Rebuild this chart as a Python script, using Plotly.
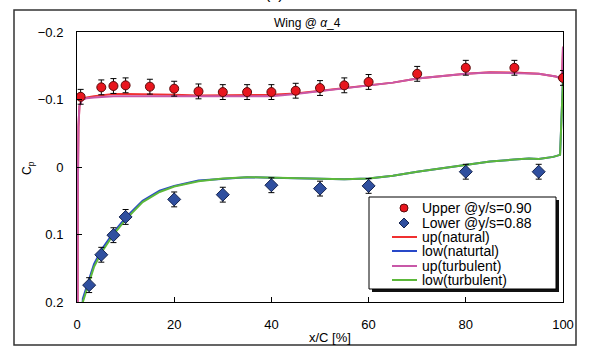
import plotly.graph_objects as go

# ---------------- data ----------------
up_x = [0.75, 5, 7.5, 10, 15, 20, 25, 30, 35, 40, 45, 50, 55, 60, 70, 80, 90, 100]
up_cp = [-0.104, -0.118, -0.120, -0.121, -0.119, -0.116, -0.112, -0.111, -0.111,
         -0.111, -0.113, -0.117, -0.121, -0.126, -0.138, -0.147, -0.147, -0.132]
up_err = [0.011] * len(up_x)

low_x = [2.5, 5, 7.5, 10, 20, 30, 40, 50, 60, 80, 95]
low_cp = [0.175, 0.130, 0.101, 0.074, 0.048, 0.041, 0.027, 0.032, 0.028, 0.007, 0.007]
low_err = [0.011] * len(low_x)

up_line_x = [0, 0.05, 0.15, 0.3, 0.5, 1, 2, 3.5, 5, 7.5, 10, 15, 20, 25, 30, 35, 40, 45,
             50, 55, 60, 65, 70, 75, 80, 85, 90, 95, 98.5, 99.8, 100]
up_nat_cp = [1.0, 0.3, 0.05, -0.06, -0.09, -0.100, -0.103, -0.105, -0.106, -0.108, -0.108,
             -0.108, -0.107, -0.106, -0.106, -0.106, -0.107, -0.109, -0.113, -0.116, -0.120,
             -0.125, -0.131, -0.135, -0.138, -0.1405, -0.140, -0.138, -0.134, -0.131, -0.178]
up_tur_cp = [1.0, 0.3, 0.05, -0.06, -0.09, -0.099, -0.102, -0.103, -0.104, -0.105, -0.105,
             -0.105, -0.105, -0.104, -0.104, -0.104, -0.105, -0.108, -0.112, -0.116, -0.120,
             -0.125, -0.131, -0.135, -0.138, -0.140, -0.1395, -0.138, -0.134, -0.131, -0.178]

low_line_x = [0, 0.5, 1.2, 2.5, 3.5, 5, 7.5, 10, 13.5, 17, 20, 25, 30, 35, 40, 45, 50, 55,
              60, 65, 70, 75, 80, 85, 90, 93, 95, 98, 99.4, 100]
low_nat_cp = [0.8, 0.34, 0.195, 0.166, 0.144, 0.123, 0.097, 0.075, 0.050, 0.035, 0.028,
              0.020, 0.017, 0.015, 0.016, 0.017, 0.018, 0.018, 0.017, 0.013, 0.007, 0.002,
              -0.004, -0.008, -0.011, -0.0125, -0.012, -0.015, -0.018, -0.13]
low_tur_cp = [0.8, 0.35, 0.2, 0.170, 0.148, 0.127, 0.100, 0.078, 0.052, 0.037, 0.029,
              0.021, 0.017, 0.015, 0.016, 0.017, 0.018, 0.018, 0.017, 0.013, 0.007, 0.002,
              -0.004, -0.008, -0.011, -0.0125, -0.012, -0.015, -0.018, -0.13]

x_ticks = [0, 20, 40, 60, 80, 100]
y_ticks = [-0.2, -0.1, 0, 0.1, 0.2]
y_ticktext = ["\u22120.2", "\u22120.1", "0", "0.1", "0.2"]

names = ["Upper @y/s=0.90", "Lower @y/s=0.88", "up(natural)", "low(naturtal)",
         "up(turbulent)", "low(turbulent)"]
line_colors = ["#f03030", "#2848c8", "#c858a8", "#5cb83a"]
red_fill, red_edge = "#e8161e", "#5a0a0a"
blue_fill, blue_edge = "#2f4f9f", "#15244f"

# ---------------- figure ----------------
W, H = 589, 347
L, R, T, B = 77, 563, 32, 302  # plot area in pixels


def px(x):
    return (x - L) / (R - L)


def py(y):
    return (B - y) / (B - T)


fig = go.Figure()

for xs, ys, c in [(up_line_x, up_nat_cp, line_colors[0]),
                  (low_line_x, low_nat_cp, line_colors[1]),
                  (up_line_x, up_tur_cp, line_colors[2]),
                  (low_line_x, low_tur_cp, line_colors[3])]:
    fig.add_trace(go.Scatter(x=xs, y=ys, mode="lines", line=dict(color=c, width=2),
                             showlegend=False, hoverinfo="skip"))

fig.add_trace(go.Scatter(
    x=up_x, y=up_cp, mode="markers",
    marker=dict(symbol="circle", size=9, color=red_fill, line=dict(color=red_edge, width=1)),
    error_y=dict(type="data", array=up_err, color="black", thickness=1, width=3),
    showlegend=False))
fig.add_trace(go.Scatter(
    x=low_x, y=low_cp, mode="markers",
    marker=dict(symbol="diamond", size=10, color=blue_fill, line=dict(color=blue_edge, width=1)),
    error_y=dict(type="data", array=low_err, color="black", thickness=1, width=3),
    showlegend=False))

shapes = []
annotations = []

# outer frame
shapes.append(dict(type="rect", xref="paper", yref="paper",
                   x0=px(14), x1=px(576), y0=py(345), y1=py(10),
                   line=dict(color="#333333", width=1.5), fillcolor="rgba(0,0,0,0)", layer="below"))

# manual legend: shadow + box
lx0, lx1, ly0, ly1 = 369, 556, 197, 289
shapes.append(dict(type="rect", xref="paper", yref="paper",
                   x0=px(lx0 + 3), x1=px(lx1 + 3), y0=py(ly1 + 3), y1=py(ly0 + 3),
                   line=dict(width=0), fillcolor="#111111"))
shapes.append(dict(type="rect", xref="paper", yref="paper",
                   x0=px(lx0), x1=px(lx1), y0=py(ly1), y1=py(ly0),
                   line=dict(color="black", width=1), fillcolor="white"))
rows = [208, 223, 237, 251, 266, 280]
sx = 404
# circle
shapes.append(dict(type="circle", xref="paper", yref="paper",
                   x0=px(sx - 4), x1=px(sx + 4), y0=py(rows[0] + 4), y1=py(rows[0] - 4),
                   line=dict(color=red_edge, width=1), fillcolor=red_fill))
# diamond
r1 = rows[1]
shapes.append(dict(type="path", xref="paper", yref="paper",
                   path="M {} {} L {} {} L {} {} L {} {} Z".format(
                       px(sx), py(r1 - 5), px(sx + 5), py(r1), px(sx), py(r1 + 5), px(sx - 5), py(r1)),
                   line=dict(color=blue_edge, width=1), fillcolor=blue_fill))
for i, c in enumerate(line_colors):
    yy = rows[2 + i]
    shapes.append(dict(type="line", xref="paper", yref="paper",
                       x0=px(392), x1=px(417), y0=py(yy), y1=py(yy),
                       line=dict(color=c, width=2)))
for name, yy in zip(names, rows):
    annotations.append(dict(text=name, xref="paper", yref="paper", x=px(420), y=py(yy),
                            xanchor="left", yanchor="middle", showarrow=False,
                            font=dict(size=14, color="black")))

# title
annotations.append(dict(text="Wing @ <i>\u03b1</i>_4", xref="paper", yref="paper",
                        x=px(307), y=py(23), xanchor="center", yanchor="middle",
                        showarrow=False, font=dict(size=12, color="black")))
# cut caption at top
annotations.append(dict(text="(c)", xref="paper", yref="paper",
                        x=px(274), y=py(4), xanchor="center", yanchor="bottom",
                        showarrow=False, font=dict(size=16, color="black")))
# axis titles
annotations.append(dict(text="x/C [%]", xref="paper", yref="paper",
                        x=px(330), y=py(337), xanchor="center", yanchor="middle",
                        showarrow=False, font=dict(size=13, color="black")))
annotations.append(dict(text="C<sub>p</sub>", xref="paper", yref="paper",
                        x=px(28), y=py(168), xanchor="center", yanchor="middle",
                        textangle=-90, showarrow=False, font=dict(size=12, color="black")))

fig.update_layout(
    width=W, height=H,
    margin=dict(l=L, r=W - R, t=T, b=H - B, pad=0),
    paper_bgcolor="white", plot_bgcolor="white",
    font=dict(family="Liberation Sans, Arial, sans-serif", size=13, color="black"),
    shapes=shapes, annotations=annotations, showlegend=False,
    xaxis=dict(range=[0, 100], tickvals=x_ticks, ticks="inside", ticklen=5, tickcolor="black",
               showline=True, linecolor="black", linewidth=1, mirror=True,
               showgrid=False, zeroline=False, ticklabelstandoff=10,
               tickfont=dict(size=13)),
    yaxis=dict(range=[0.2, -0.2], tickvals=y_ticks, ticktext=y_ticktext, ticks="inside",
               ticklen=5, tickcolor="black", showline=True, linecolor="black", linewidth=1,
               mirror=True, showgrid=False, zeroline=False, ticklabelstandoff=10,
               tickfont=dict(size=13)),
)

fig.write_html("out.html")
